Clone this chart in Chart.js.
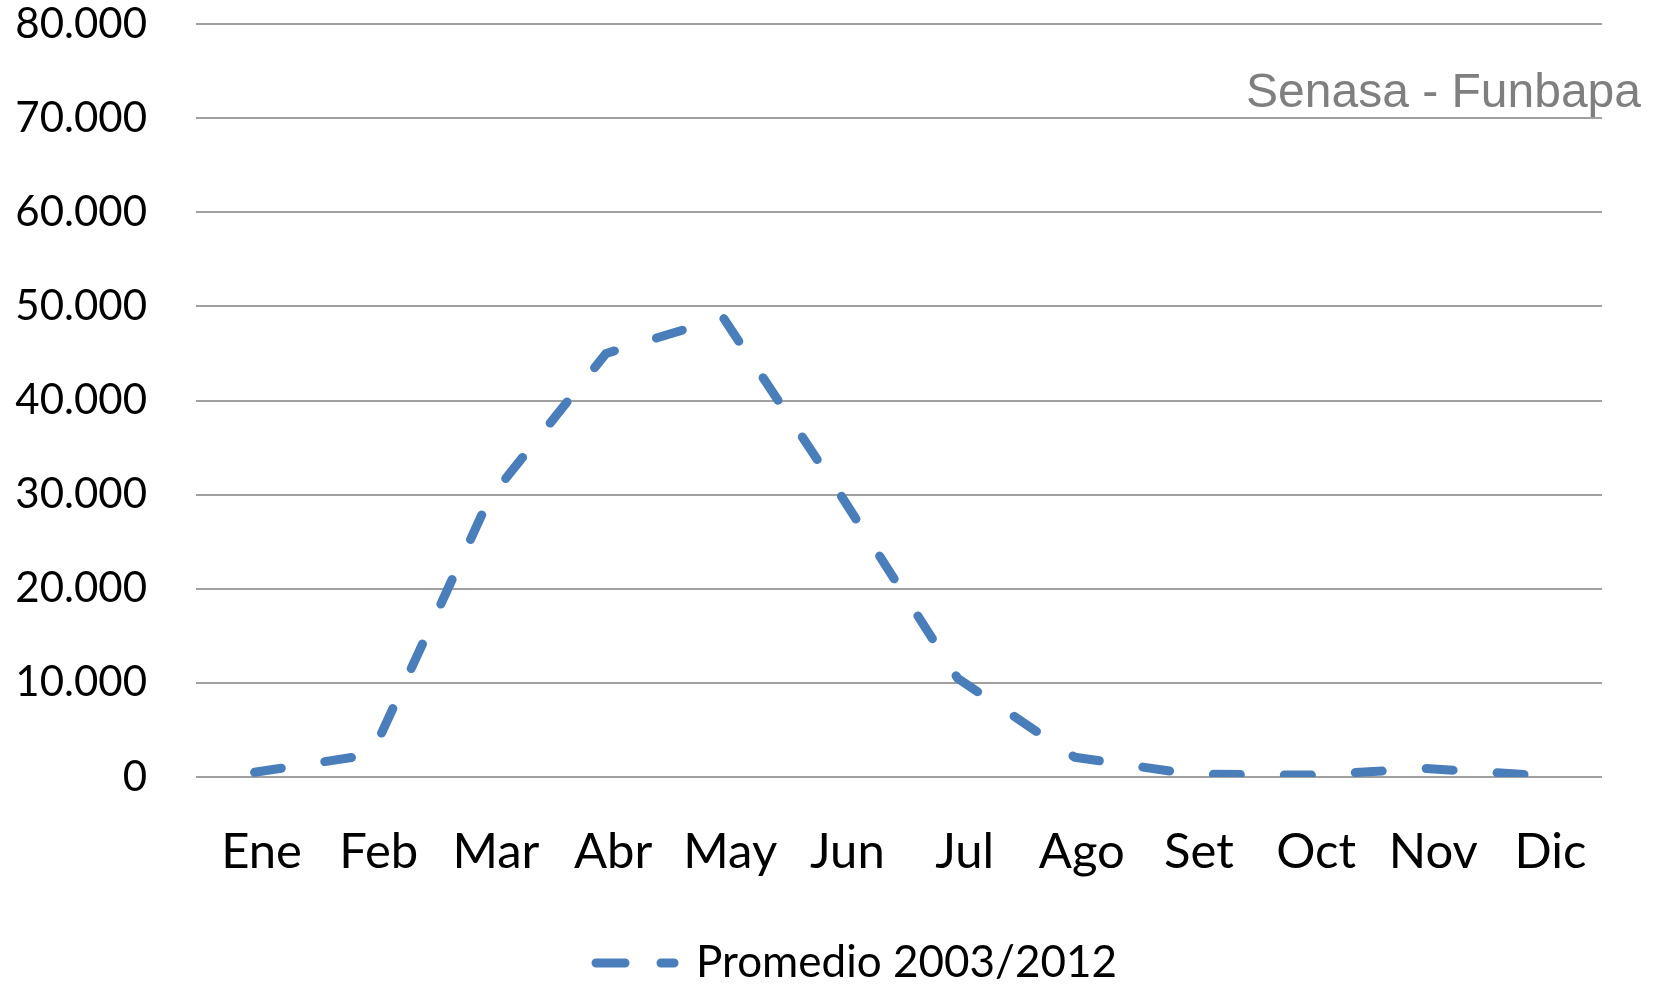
<!DOCTYPE html>
<html>
<head>
<meta charset="utf-8">
<script src="https://cdn.jsdelivr.net/npm/chart.js@4/dist/chart.umd.min.js"></script>
<style>
  html, body { margin: 0; padding: 0; background: #ffffff; }
  #wrap { width: 1657px; height: 984px; }
</style>
</head>
<body>
<div id="wrap"><canvas id="c" width="1657" height="984"></canvas></div>
<script>
const months = ['Ene', 'Feb', 'Mar', 'Abr', 'May', 'Jun', 'Jul', 'Ago', 'Set', 'Oct', 'Nov', 'Dic'];
const promedio = [500, 2400, 29500, 45000, 48800, 30000, 10500, 2100, 300, 200, 900, 150];
const seriesLabel = 'Promedio 2003/2012';
const yMin = 0, yMax = 80000, yStep = 10000;
const sourceText = 'Senasa - Funbapa';

const lineColor = '#4a7ebb';
const lineWidth = 9;
const lineDash = [27, 44];

function fmtThousands(v) {
  const s = String(Math.round(v));
  return s.replace(/\B(?=(\d{3})+(?!\d))/g, '.');
}

const sourcePlugin = {
  id: 'sourceText',
  afterDraw(chart) {
    const ctx = chart.ctx;
    ctx.save();
    ctx.font = '48px "Liberation Sans", Arial, sans-serif';
    ctx.fillStyle = '#7f7f7f';
    ctx.textAlign = 'right';
    ctx.textBaseline = 'alphabetic';
    ctx.fillText(sourceText, 1641, 107);
    ctx.restore();
  }
};

new Chart(document.getElementById('c'), {
  type: 'line',
  data: {
    labels: months,
    datasets: [{
      label: seriesLabel,
      data: promedio,
      borderColor: lineColor,
      backgroundColor: lineColor,
      borderWidth: lineWidth,
      borderDash: lineDash,
      borderCapStyle: 'round',
      borderJoinStyle: 'round',
      tension: 0,
      pointRadius: 0,
      pointHoverRadius: 0,
      fill: false
    }]
  },
  options: {
    responsive: false,
    animation: false,
    devicePixelRatio: 1,
    layout: { padding: { left: 111, right: 55, top: 24, bottom: -11 } },
    plugins: {
      tooltip: { enabled: false },
      legend: {
        display: true,
        position: 'bottom',
        labels: {
          usePointStyle: true,
          pointStyle: 'line',
          pointStyleWidth: 78,
          padding: 10,
          color: '#000000',
          font: { family: 'Lato, "Open Sans", sans-serif', size: 44 },
          generateLabels(chart) {
            const items = Chart.defaults.plugins.legend.labels.generateLabels(chart);
            items.forEach((it) => {
              const ds = chart.data.datasets[it.datasetIndex];
              it.strokeStyle = ds.borderColor;
              it.lineWidth = ds.borderWidth;
              it.lineCap = ds.borderCapStyle;
              it.lineDash = [29, 36];
              it.pointStyle = 'line';
            });
            return items;
          }
        }
      }
    },
    scales: {
      x: {
        type: 'category',
        offset: true,
        grid: { display: false, drawTicks: false },
        border: { display: false },
        ticks: {
          color: '#000000',
          padding: 46,
          labelOffset: 7,
          maxRotation: 0,
          autoSkip: false,
          font: { family: 'Lato, "Open Sans", sans-serif', size: 49 }
        },
        afterFit(s) { s.height = 154; }
      },
      y: {
        min: yMin,
        max: yMax,
        grid: { color: '#a0a0a0', lineWidth: 2, drawTicks: false },
        border: { display: false },
        ticks: {
          stepSize: yStep,
          color: '#000000',
          padding: 49,
          font: { family: 'Lato, "Open Sans", sans-serif', size: 42, lineHeight: 1 },
          callback: (v) => fmtThousands(v)
        },
        afterFit(s) { s.width = 85; s.paddingTop = 0; s.paddingBottom = 0; },
        afterUpdate(s) { s._computeLabelArea = () => undefined; }
      }
    }
  },
  plugins: [sourcePlugin]
});
</script>
</body>
</html>
